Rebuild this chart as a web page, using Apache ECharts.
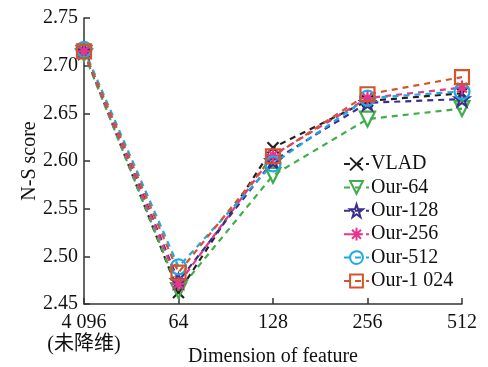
<!DOCTYPE html>
<html><head><meta charset="utf-8">
<script src="https://cdn.jsdelivr.net/npm/echarts@6/dist/echarts.min.js"></script>
<style>html,body{margin:0;padding:0;background:#fff}#c{width:488px;height:367px}</style>
</head><body><div id="c"></div>
<script>
const categories = ['4 096\n(未降维)', '64', '128', '256', '512'];
const yTicks = [2.45, 2.50, 2.55, 2.60, 2.65, 2.70, 2.75];
const vlad    = [2.715, 2.462, 2.614, 2.663, 2.671];
const our64   = [2.713, 2.464, 2.585, 2.644, 2.655];
const our128  = [2.715, 2.474, 2.600, 2.661, 2.665];
const our256  = [2.715, 2.471, 2.606, 2.666, 2.677];
const our512  = [2.717, 2.489, 2.597, 2.666, 2.673];
const our1024 = [2.715, 2.483, 2.605, 2.670, 2.688];

const serif = '"Liberation Serif","Times New Roman","Noto Sans CJK SC",serif';
const defs = [
  {name:'VLAD', data:vlad, color:'#222222', symbol:'path://M0,0L10,10M10,0L0,10M0,0L10,10', size:11, fill:'#222222'},
  {name:'Our-64', data:our64, color:'#3fae4a', symbol:'path://M0,0L10,0L5,9Z', size:15, fill:'rgba(255,255,255,0)'},
  {name:'Our-128', data:our128, color:'#3b2f8e', symbol:'path://M5,0L6.2,3.6L10,3.6L7,5.9L8.1,9.5L5,7.3L1.9,9.5L3,5.9L0,3.6L3.8,3.6Z', size:14, fill:'rgba(255,255,255,0)'},
  {name:'Our-256', data:our256, color:'#e6358c', symbol:'path://M5,0L5,10M0,5L10,5M1.5,1.5L8.5,8.5M8.5,1.5L1.5,8.5M5,0', size:14, fill:'#e6358c'},
  {name:'Our-512', data:our512, color:'#1fa9e1', symbol:'path://M10,5A5,5 0 1 1 9.9,4Z', size:15, fill:'rgba(255,255,255,0)'},
  {name:'Our-1 024', data:our1024, color:'#d2552b', symbol:'path://M0,0L10,0L10,10L0,10Z', size:14, fill:'rgba(255,255,255,0)'}
];

const chart = echarts.init(document.getElementById('c'), null, {renderer:'canvas'});
chart.setOption({
  animation:false,
  backgroundColor:'#fff',
  grid:{left:84, right:26, top:18, bottom:63, containLabel:false, outerBoundsMode:'none'},
  legend:{
    orient:'vertical', left:338, top:149,
    itemWidth:25, itemHeight:16, itemGap:3.4,
    textStyle:{fontFamily:serif, fontSize:20, lineHeight:20, color:'#111', padding:[0,0,0,-3]},
    data: defs.map(d=>d.name)
  },
  xAxis:{
    type:'category', data:categories, boundaryGap:false,
    name:'Dimension of feature', nameLocation:'middle', nameGap:43, nameMoveOverlap:false,
    nameTextStyle:{fontFamily:serif, fontSize:20, color:'#111'},
    axisLine:{lineStyle:{color:'#333', width:1.5}},
    axisTick:{inside:true, length:6, lineStyle:{color:'#333', width:1.5}},
    axisLabel:{fontFamily:serif, fontSize:20, color:'#111', margin:8, lineHeight:22, interval:0},
    splitLine:{show:false}
  },
  yAxis:{
    type:'value', min:yTicks[0], max:yTicks[yTicks.length-1], interval:0.05,
    name:'N-S score', nameLocation:'middle', nameGap:44, nameMoveOverlap:false,
    nameTextStyle:{fontFamily:serif, fontSize:20, color:'#111'},
    axisLine:{show:true, lineStyle:{color:'#333', width:1.5}},
    axisTick:{show:true, inside:true, length:6, lineStyle:{color:'#333', width:1.5}},
    axisLabel:{fontFamily:serif, fontSize:20, color:'#111', margin:6, formatter:v=>v.toFixed(2)},
    splitLine:{show:false}
  },
  series: defs.map(d=>({
    name:d.name, type:'line', data:d.data,
    symbol:d.symbol, symbolSize:d.size, showAllSymbol:true,
    lineStyle:{color:d.color, width:2.2, type:[6,5]},
    itemStyle:{color:d.fill, borderColor:d.color, borderWidth:2.2},
    color:d.color
  }))
});
</script></body></html>
